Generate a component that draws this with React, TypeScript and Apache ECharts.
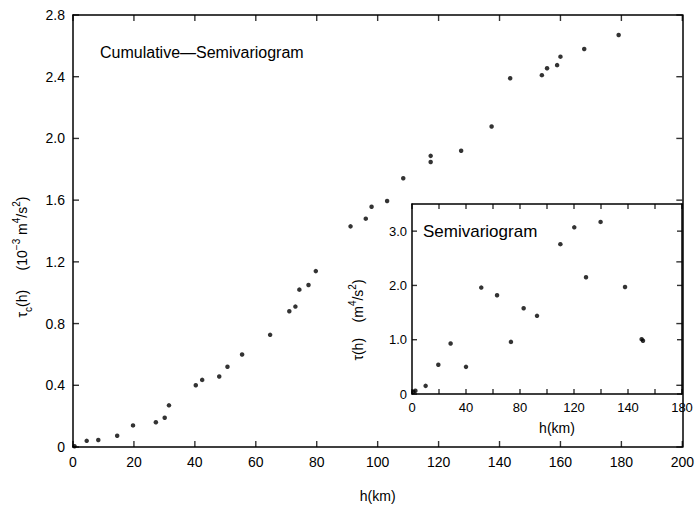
import React, { useEffect, useRef } from "react";
import * as echarts from "echarts";

// Cumulative semivariogram (main plot)
const mainH = [0.5, 4.5, 8.3, 14.5, 19.7, 27.2, 30.1, 31.5, 40.3, 42.4, 48.0, 50.7, 55.5, 64.7, 71.0, 73.0, 74.3, 77.3, 79.7, 91.1, 96.1, 98.0, 103.1, 108.4, 117.4, 117.4, 127.4, 137.4, 143.5, 153.9, 155.6, 158.9, 160.0, 167.8, 179.1];
const mainTau = [0.005, 0.04, 0.045, 0.073, 0.14, 0.16, 0.19, 0.27, 0.4, 0.435, 0.457, 0.52, 0.6, 0.727, 0.88, 0.91, 1.02, 1.05, 1.14, 1.43, 1.48, 1.557, 1.594, 1.742, 1.847, 1.887, 1.92, 2.077, 2.39, 2.41, 2.455, 2.475, 2.53, 2.58, 2.67];

// Semivariogram (inset)
const insetH = [1.0, 2.5, 10.1, 19.5, 28.6, 40.0, 51.3, 63.0, 73.3, 82.7, 92.6, 109.9, 120.2, 128.9, 139.7, 157.8, 170.1, 171.1];
const insetTau = [0.04, 0.06, 0.15, 0.54, 0.93, 0.5, 1.96, 1.82, 0.96, 1.58, 1.44, 2.76, 3.07, 2.15, 3.17, 1.97, 1.01, 0.98];

// Tick positions
const mainXTicks = [0, 20, 40, 60, 80, 100, 120, 140, 160, 180, 200];
const mainYTicks = [0, 0.4, 0.8, 1.2, 1.6, 2.0, 2.4, 2.8];
const insetXTicks = [0, 20, 40, 60, 80, 100, 120, 140, 160, 180, 200];
const insetYTicks = [0, 1, 2, 3];

// Inset tick labels as printed in the figure (position -> text)
const insetXTickPos = [0, 40, 80, 120, 160, 200];
const insetXTickText = ["0", "40", "80", "120", "140", "180"];

const mainTitle = "Cumulative\u2014Semivariogram";
const insetTitle = "Semivariogram";

const FONT = "Liberation Sans, Arial, sans-serif";
const INK = "#000";

// Tick marks drawn as tiny rect symbols through the axes' own scales
function tickSeries(
  xi: number, yi: number, xs: number[], ys: number[],
  xMin: number, xMax: number, yMin: number, yMax: number, len: number
): any[] {
  const base = {
    type: "scatter", xAxisIndex: xi, yAxisIndex: yi, symbol: "rect", silent: true,
    clip: false, z: 6, itemStyle: { color: INK }, emphasis: { disabled: true },
  };
  return [
    { ...base, symbolSize: [1.4, len], symbolOffset: [0, -len / 2], data: xs.map((x) => [x, yMin]) },
    { ...base, symbolSize: [1.4, len], symbolOffset: [0, len / 2], data: xs.map((x) => [x, yMax]) },
    { ...base, symbolSize: [len, 1.4], symbolOffset: [len / 2, 0], data: ys.map((y) => [xMin, y]) },
    { ...base, symbolSize: [len, 1.4], symbolOffset: [-len / 2, 0], data: ys.map((y) => [xMax, y]) },
  ];
}

export default function App() {
  const ref = useRef<HTMLDivElement>(null);
  useEffect(() => {
    if (!ref.current) return;
    const chart = echarts.init(ref.current, null, { renderer: "svg" });
    const axisLine = () => ({ show: true, onZero: false, lineStyle: { color: INK, width: 1.5 } });
    const noTick = () => ({ show: false });
    const option: any = {
      animation: false,
      grid: [
        { left: 73, right: 9, top: 15, bottom: 58 },
        { left: 412, right: 15, top: 204, bottom: 114 },
      ],
      xAxis: [
        {
          gridIndex: 0, type: "value", min: 0, max: 200, interval: 20,
          axisLine: axisLine(), axisTick: noTick(), splitLine: { show: false },
          axisLabel: { color: INK, fontSize: 14, fontFamily: FONT, margin: 8 },
          name: "h(km)", nameLocation: "middle", nameGap: 42,
          nameTextStyle: { color: INK, fontSize: 14, fontFamily: FONT },
        },
        {
          gridIndex: 0, type: "value", position: "top", min: 0, max: 200, interval: 20,
          axisLine: axisLine(), axisTick: noTick(), axisLabel: { show: false }, splitLine: { show: false },
        },
        {
          gridIndex: 1, type: "value", min: 0, max: 200, interval: 20,
          axisLine: axisLine(), axisTick: noTick(), splitLine: { show: false },
          axisLabel: {
            color: INK, fontSize: 13, fontFamily: FONT, margin: 7, showMaxLabel: true,
            formatter: (v: number) => {
              const i = insetXTickPos.indexOf(Math.round(v));
              return i >= 0 ? insetXTickText[i] : "";
            },
          },
        },
        {
          gridIndex: 1, type: "value", position: "top", min: 0, max: 200, interval: 20,
          axisLine: axisLine(), axisTick: noTick(), axisLabel: { show: false }, splitLine: { show: false },
        },
      ],
      yAxis: [
        {
          gridIndex: 0, type: "value", min: 0, max: 2.8, interval: 0.4,
          axisLine: axisLine(), axisTick: noTick(), splitLine: { show: false },
          axisLabel: {
            color: INK, fontSize: 14, fontFamily: FONT, margin: 8,
            formatter: (v: number) => (v === 0 ? "0" : v.toFixed(1)),
          },
        },
        {
          gridIndex: 0, type: "value", position: "right", min: 0, max: 2.8, interval: 0.4,
          axisLine: axisLine(), axisTick: noTick(), axisLabel: { show: false }, splitLine: { show: false },
        },
        {
          gridIndex: 1, type: "value", min: 0, max: 3.5, interval: 1,
          axisLine: axisLine(), axisTick: noTick(), splitLine: { show: false },
          axisLabel: {
            color: INK, fontSize: 13, fontFamily: FONT, margin: 5,
            formatter: (v: number) => (v === 0 ? "0" : Number.isInteger(v) ? v.toFixed(1) : ""),
          },
        },
        {
          gridIndex: 1, type: "value", position: "right", min: 0, max: 3.5, interval: 1,
          axisLine: axisLine(), axisTick: noTick(), axisLabel: { show: false }, splitLine: { show: false },
        },
      ],
      series: [
        {
          type: "scatter", xAxisIndex: 0, yAxisIndex: 0, symbolSize: 4.5,
          itemStyle: { color: INK },
          data: mainH.map((h, i) => [h, mainTau[i]]),
        },
        {
          type: "scatter", xAxisIndex: 2, yAxisIndex: 2, symbolSize: 4.5,
          itemStyle: { color: INK },
          data: insetH.map((h, i) => [h, insetTau[i]]),
        },
        ...tickSeries(0, 0, mainXTicks, mainYTicks, 0, 200, 0, 2.8, 6),
        ...tickSeries(2, 2, insetXTicks, insetYTicks, 0, 200, 0, 3.5, 5),
      ],
      graphic: [
        {
          type: "text", left: 100, top: 44, z: 10,
          style: { text: mainTitle, fill: INK, font: `16px ${FONT}` },
        },
        {
          type: "text", left: 423, top: 223, z: 10,
          style: { text: insetTitle, fill: INK, font: `17px ${FONT}` },
        },
        {
          type: "text", x: 557, y: 428, z: 10,
          style: { text: "h(km)", fill: INK, font: `14px ${FONT}`, align: "center", verticalAlign: "middle" },
        },
        {
          type: "text", x: 22, y: 257, rotation: Math.PI / 2, z: 10,
          style: {
            text: "{a|\u03c4}{sub|c}{a|(h)     (10}{sup|\u22123}{a| m}{sup|4}{a|/s}{sup|2}{a|)}",
            align: "center", verticalAlign: "middle", fill: INK,
            rich: {
              a: { fontSize: 14, fontFamily: FONT, fill: INK, lineHeight: 22, verticalAlign: "middle" },
              sup: { fontSize: 10, fontFamily: FONT, fill: INK, lineHeight: 22, verticalAlign: "top" },
              sub: { fontSize: 10, fontFamily: FONT, fill: INK, lineHeight: 22, verticalAlign: "bottom" },
            },
          },
        },
        {
          type: "text", x: 358, y: 320, rotation: Math.PI / 2, z: 10,
          style: {
            text: "{a|\u03c4(h)    (m}{sup|4}{a|/s}{sup|2}{a|)}",
            align: "center", verticalAlign: "middle", fill: INK,
            rich: {
              a: { fontSize: 14, fontFamily: FONT, fill: INK, lineHeight: 22, verticalAlign: "middle" },
              sup: { fontSize: 10, fontFamily: FONT, fill: INK, lineHeight: 22, verticalAlign: "top" },
            },
          },
        },
      ],
    };
    chart.setOption(option);
    return () => chart.dispose();
  }, []);
  return <div ref={ref} style={{ width: 697, height: 508, position: "absolute", left: 0, top: 0, background: "#fff" }} />;
}
